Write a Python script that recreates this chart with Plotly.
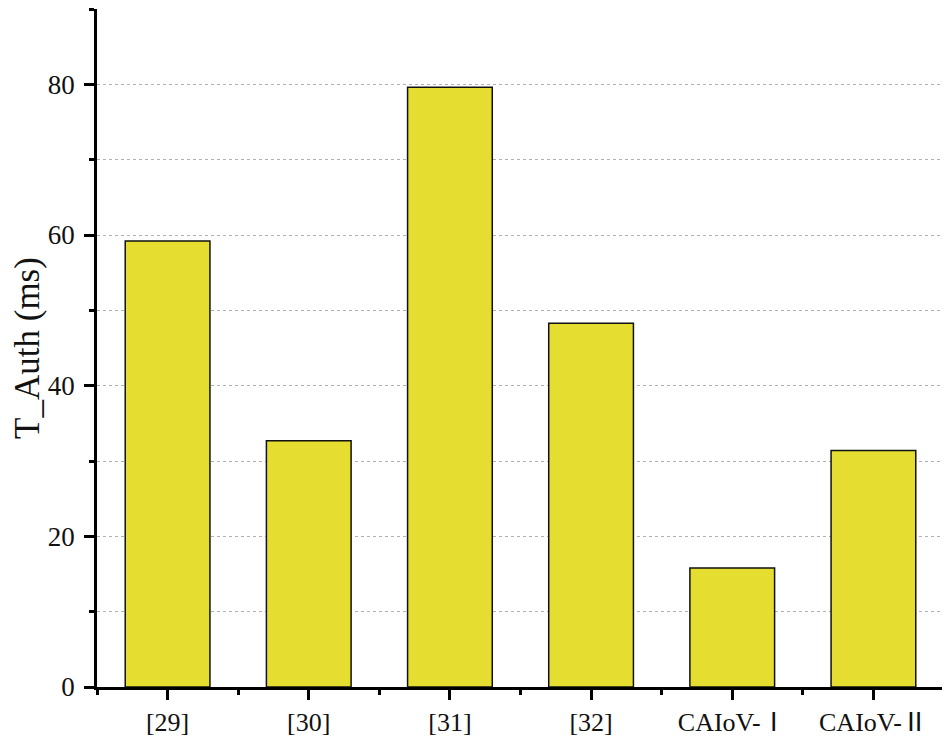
import plotly.graph_objects as go

categories = ["[29]", "[30]", "[31]", "[32]", "CAIoV-Ⅰ", "CAIoV-Ⅱ"]
t_auth = [59.2, 32.7, 79.6, 48.3, 15.8, 31.4]
y_ticks = [0, 20, 40, 60, 80]

positions = list(range(len(categories)))

fig = go.Figure()
fig.add_trace(
    go.Bar(
        x=positions,
        y=t_auth,
        width=0.6,
        marker=dict(color="#E5DE31", line=dict(color="#111111", width=1.5)),
    )
)

# page body has an 8px offset, margins compensate for it
fig.update_layout(
    width=950,
    height=742,
    margin=dict(l=89, r=14, t=1, b=63),
    paper_bgcolor="white",
    plot_bgcolor="white",
    showlegend=False,
    font=dict(family="Liberation Serif", color="#111111"),
)

fig.update_xaxes(
    range=[-0.5, 5.5],
    tickvals=positions,
    ticktext=categories,
    tickfont=dict(size=26, family="Liberation Serif, Noto Sans CJK SC"),
    showline=True,
    linecolor="black",
    linewidth=2.5,
    ticks="outside",
    ticklen=10,
    tickwidth=2.5,
    tickcolor="black",
    showgrid=False,
    zeroline=False,
    minor=dict(tick0=-0.5, dtick=1, ticks="outside", ticklen=5, tickwidth=2.5,
               tickcolor="black", showgrid=False),
)

fig.update_yaxes(
    range=[0, 90],
    tickvals=y_ticks,
    tickfont=dict(size=27),
    ticklabelstandoff=4,
    title=dict(text="T_Auth (ms)", font=dict(size=35), standoff=6),
    showline=True,
    linecolor="black",
    linewidth=2.5,
    ticks="outside",
    ticklen=10,
    tickwidth=2.5,
    tickcolor="black",
    showgrid=True,
    gridcolor="#b0b0b0",
    gridwidth=1,
    griddash="3px,3px",
    zeroline=False,
    minor=dict(tick0=0, dtick=10, ticks="outside", ticklen=5, tickwidth=2.5,
               tickcolor="black", showgrid=True, gridcolor="#b0b0b0",
               gridwidth=1, griddash="3px,3px"),
)

fig.write_html("out.html")
